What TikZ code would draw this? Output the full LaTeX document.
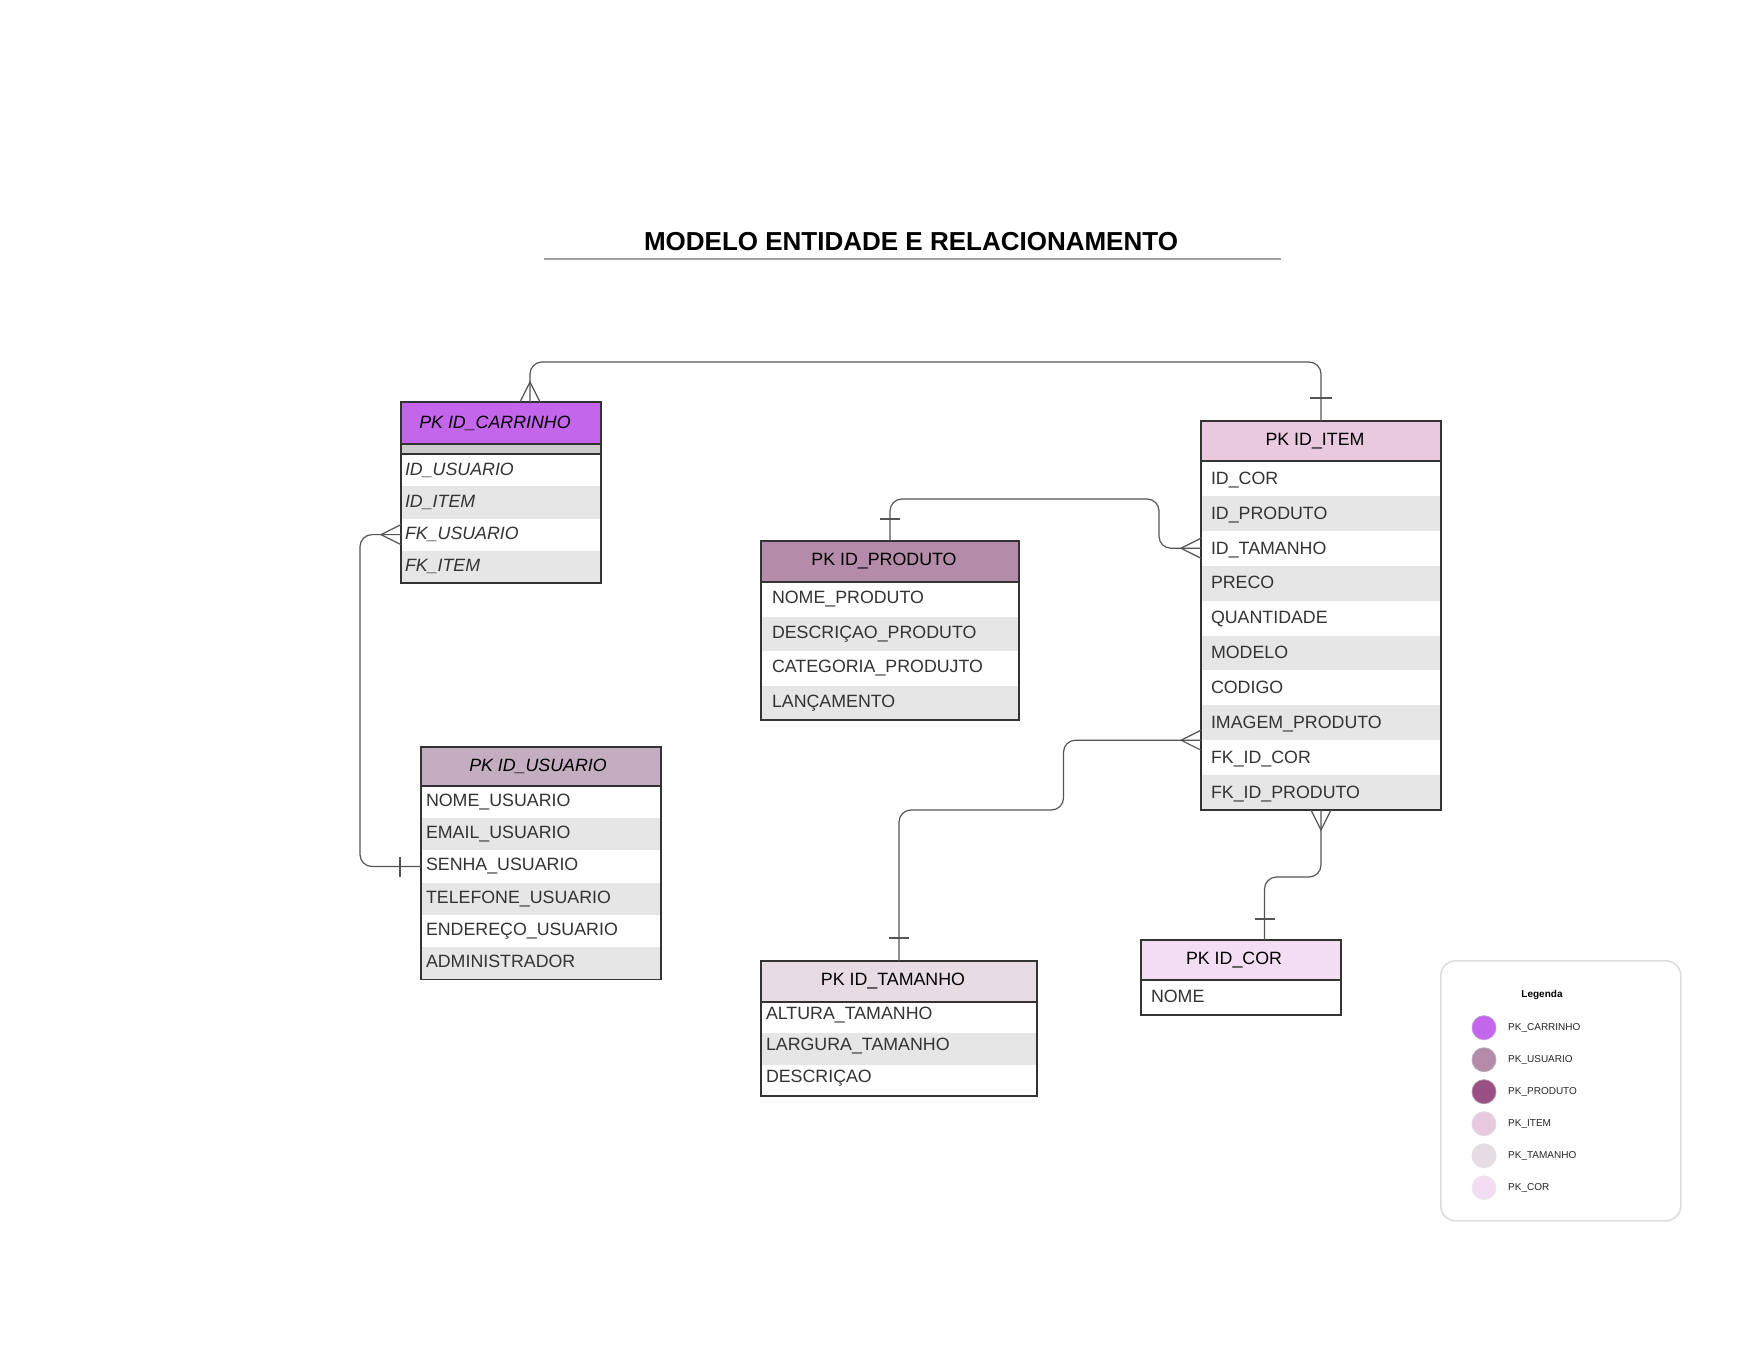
\documentclass[tikz,border=0pt]{standalone}
\usepackage{fontspec}
\setmainfont{Liberation Sans}
\usetikzlibrary{calc}
\definecolor{carC}{HTML}{C466EC}
\definecolor{usuC}{HTML}{C4ADC0}
\definecolor{proC}{HTML}{B48BA8}
\definecolor{iteC}{HTML}{E8C9E0}
\definecolor{tamC}{HTML}{E7DCE4}
\definecolor{corC}{HTML}{F3DDF3}
\definecolor{legA}{HTML}{C466EC}
\definecolor{legB}{HTML}{B48BA8}
\definecolor{legC}{HTML}{9A4F85}
\definecolor{legD}{HTML}{E8C9E0}
\definecolor{legE}{HTML}{E6DCE4}
\definecolor{legF}{HTML}{F3DDF3}
\definecolor{rowG}{HTML}{E6E6E6}
\definecolor{stripC}{HTML}{CCCCCC}
\definecolor{bordC}{HTML}{333333}
\definecolor{connC}{HTML}{555555}
\definecolor{txtC}{HTML}{333333}
\definecolor{legBord}{HTML}{DDDDDD}
\newcommand{\attrfont}{\fontsize{17.8pt}{21pt}\selectfont}
\newcommand{\legfont}{\fontsize{10pt}{12pt}\selectfont}
\begin{document}
\begin{tikzpicture}[x=1pt,y=-1pt,
  hdr/.style={anchor=north west, inner sep=0pt, outer sep=0pt, font=\attrfont, text=black},
  row/.style={anchor=north west, inner ysep=0pt, outer sep=0pt, align=left, font=\attrfont, text=txtC, text height=12.8pt, text depth=0pt},
  carrow/.style={row, text width=192pt, inner xsep=4pt, minimum height=32.25pt, text depth=2.8pt, font=\attrfont\itshape},
  prorow/.style={row, text width=236pt, inner xsep=11pt, minimum height=34.5pt, text depth=3.5pt},
  iterow/.style={row, text width=220pt, inner xsep=10pt, minimum height=34.9pt, text depth=1.2pt},
  usurow/.style={row, text width=230pt, inner xsep=5pt, minimum height=32.2pt, text depth=4pt},
  tamrow/.style={row, text width=266pt, inner xsep=5pt, minimum height=31.3pt, text depth=9pt},
  correw/.style={row, text width=180pt, inner xsep=10pt, minimum height=35pt, text depth=2pt},
  ebox/.style={draw=bordC, line width=1.3pt},
  conn/.style={draw=connC, line width=1.2pt},
  elbow/.style={conn, rounded corners=12pt},
  legdot/.style={circle, minimum size=24pt, inner sep=0pt, line width=0.8pt},
  legtxt/.style={anchor=west, inner sep=0pt, font=\legfont, text=black!85}]

\useasboundingbox (0,0) rectangle (1759,1359);
\fill[white] (0,0) rectangle (1759,1359);

% Title
\node[font=\fontsize{26pt}{30pt}\selectfont\bfseries, text=black, inner sep=0pt] (title) at (911,241.5) {MODELO ENTIDADE E RELACIONAMENTO};
\draw[color=black!38, line width=2pt] (544,259) -- (1281,259);

% ---------- CARRINHO ----------
\node[hdr, fill=carC, minimum width=200pt, minimum height=42pt, font=\attrfont\itshape] (chdr) at (401,402) {PK ID\_CARRINHO\hspace*{12pt}};
\node[anchor=north west, inner sep=0pt, outer sep=0pt, fill=stripC, minimum width=200pt, minimum height=10pt] (cstrip) at (401,444) {};
\node[carrow, fill=white] (cidu) at (401,454) {ID\_USUARIO};
\node[carrow, fill=rowG] (cidi) at (401,486.25) {ID\_ITEM};
\node[carrow, fill=white] (cfku) at (401,518.5) {FK\_USUARIO};
\node[carrow, fill=rowG] (cfki) at (401,550.75) {FK\_ITEM};
\draw[ebox] (chdr.north west) rectangle (cfki.south east);
\draw[ebox] (chdr.south west) -- (chdr.south east);
\draw[ebox] (cstrip.south west) -- (cstrip.south east);

% ---------- PRODUTO ----------
\node[hdr, fill=proC, minimum width=258pt, minimum height=41pt] (phdr) at (761,541) {PK ID\_PRODUTO\hspace*{12pt}};
\node[prorow, fill=white] (pnom) at (761,582) {NOME\_PRODUTO};
\node[prorow, fill=rowG] (pdes) at (761,616.5) {DESCRIÇAO\_PRODUTO};
\node[prorow, fill=white] (pcat) at (761,651) {CATEGORIA\_PRODUJTO};
\node[prorow, fill=rowG] (plan) at (761,685.5) {LANÇAMENTO};
\draw[ebox] (phdr.north west) rectangle (plan.south east);
\draw[ebox] (phdr.south west) -- (phdr.south east);

% ---------- ITEM ----------
\node[hdr, fill=iteC, minimum width=240pt, minimum height=40pt] (ihdr) at (1201,421) {PK ID\_ITEM\hspace*{12pt}};
\node[iterow, fill=white] (icor) at (1201,461) {ID\_COR};
\node[iterow, fill=rowG] (ipro) at (1201,495.9) {ID\_PRODUTO};
\node[iterow, fill=white] (itam) at (1201,530.8) {ID\_TAMANHO};
\node[iterow, fill=rowG] (ipre) at (1201,565.7) {PRECO};
\node[iterow, fill=white] (iqua) at (1201,600.6) {QUANTIDADE};
\node[iterow, fill=rowG] (imod) at (1201,635.5) {MODELO};
\node[iterow, fill=white] (icod) at (1201,670.4) {CODIGO};
\node[iterow, fill=rowG] (iimg) at (1201,705.3) {IMAGEM\_PRODUTO};
\node[iterow, fill=white] (ifkc) at (1201,740.2) {FK\_ID\_COR};
\node[iterow, fill=rowG] (ifkp) at (1201,775.1) {FK\_ID\_PRODUTO};
\draw[ebox] (ihdr.north west) rectangle (ifkp.south east);
\draw[ebox] (ihdr.south west) -- (ihdr.south east);

% ---------- USUARIO ----------
\node[hdr, fill=usuC, minimum width=240pt, minimum height=39pt, font=\attrfont\itshape] (uhdr) at (421,747) {PK ID\_USUARIO\hspace*{6pt}};
\node[usurow, fill=white] (unom) at (421,786) {NOME\_USUARIO};
\node[usurow, fill=rowG] (uema) at (421,818.2) {EMAIL\_USUARIO};
\node[usurow, fill=white] (usen) at (421,850.4) {SENHA\_USUARIO};
\node[usurow, fill=rowG] (utel) at (421,882.6) {TELEFONE\_USUARIO};
\node[usurow, fill=white] (uend) at (421,914.8) {ENDEREÇO\_USUARIO};
\node[usurow, fill=rowG] (uadm) at (421,947) {ADMINISTRADOR};
\draw[ebox] (uhdr.north west) rectangle (uadm.south east);
\draw[ebox] (uhdr.south west) -- (uhdr.south east);

% ---------- TAMANHO ----------
\node[hdr, fill=tamC, minimum width=276pt, minimum height=41pt] (thdr) at (761,961) {PK ID\_TAMANHO\hspace*{12pt}};
\node[tamrow, fill=white] (talt) at (761,1002) {ALTURA\_TAMANHO};
\node[tamrow, fill=rowG] (tlar) at (761,1033.3) {LARGURA\_TAMANHO};
\node[tamrow, fill=white] (tdes) at (761,1064.6) {DESCRIÇAO};
\draw[ebox] (thdr.north west) rectangle (tdes.south east);
\draw[ebox] (thdr.south west) -- (thdr.south east);

% ---------- COR ----------
\node[hdr, fill=corC, minimum width=200pt, minimum height=40pt] (khdr) at (1141,940) {PK ID\_COR\hspace*{14pt}};
\node[correw, fill=white] (knom) at (1141,980) {NOME};
\draw[ebox] (khdr.north west) rectangle (knom.south east);
\draw[ebox] (khdr.south west) -- (khdr.south east);

% ---------- CONNECTORS ----------
% Carrinho -- Item
\coordinate (carTop) at ([xshift=129pt]chdr.north west);
\coordinate (topRun) at (900,362);
\draw[elbow] (carTop) |- (topRun) -| (ihdr.north);
\draw[conn] ([xshift=-10pt]carTop) -- ([yshift=20pt]carTop) -- ([xshift=10pt]carTop);
\draw[conn] ([xshift=-11pt,yshift=23pt]ihdr.north) -- ([xshift=11pt,yshift=23pt]ihdr.north);

% Usuario -- Carrinho
\coordinate (leftRun) at (360,700);
\draw[elbow] (usen.west) -| (leftRun) |- (cfku.west);
\draw[conn] ([yshift=10pt]cfku.west) -- ([xshift=-20pt]cfku.west) -- ([yshift=-10pt]cfku.west);
\draw[conn] ([xshift=-21pt,yshift=10pt]usen.west) -- ([xshift=-21pt,yshift=-10pt]usen.west);

% Produto -- Item
\coordinate (proRun) at (1159,499);
\draw[elbow] (phdr.north) |- (proRun) |- (itam.west);
\draw[conn] ([yshift=10pt]itam.west) -- ([xshift=-20pt]itam.west) -- ([yshift=-10pt]itam.west);
\draw[conn] ([xshift=-10pt,yshift=22pt]phdr.north) -- ([xshift=10pt,yshift=22pt]phdr.north);

% Tamanho -- Item
\coordinate (tamRun) at (1063.5,810);
\draw[elbow] (thdr.north) |- (tamRun) |- (iimg.south west);
\draw[conn] ([yshift=10pt]iimg.south west) -- ([xshift=-20pt]iimg.south west) -- ([yshift=-10pt]iimg.south west);
\draw[conn] ([xshift=-10pt,yshift=23pt]thdr.north) -- ([xshift=10pt,yshift=23pt]thdr.north);

% Cor -- Item
\coordinate (corPt) at ([xshift=23.5pt]khdr.north);
\coordinate (corRun) at (1290,877);
\draw[elbow] (corPt) |- (corRun) -| (ifkp.south);
\draw[conn] ([xshift=-10pt]ifkp.south) -- ([yshift=-20pt]ifkp.south) -- ([xshift=10pt]ifkp.south);
\draw[conn] ([xshift=-10pt,yshift=21pt]corPt) -- ([xshift=10pt,yshift=21pt]corPt);

% ---------- LEGEND ----------
\node[anchor=north west, draw=legBord, line width=1.6pt, rounded corners=15pt, fill=white, minimum width=240pt, minimum height=260pt, inner sep=0pt] (leg) at (1440,960) {};
\node[font=\legfont\bfseries, inner sep=0pt, text=black] (legT) at (1542,995) {Legenda};
\node[legdot, fill=legA, draw=legA!80!black!60] (d1) at (1484,1027.7) {};
\node[legdot, fill=legB, draw=legB!80!black!60] (d2) at (1484,1059.7) {};
\node[legdot, fill=legC, draw=legC!80!black!60] (d3) at (1484,1091.7) {};
\node[legdot, fill=legD, draw=legD!80!black!40] (d4) at (1484,1123.7) {};
\node[legdot, fill=legE, draw=legE!80!black!40] (d5) at (1484,1155.7) {};
\node[legdot, fill=legF, draw=legF!80!black!30] (d6) at (1484,1187.7) {};
\node[legtxt] (t1) at (1508,1027.7) {PK\_CARRINHO};
\node[legtxt] (t2) at (1508,1059.7) {PK\_USUARIO};
\node[legtxt] (t3) at (1508,1091.7) {PK\_PRODUTO};
\node[legtxt] (t4) at (1508,1123.7) {PK\_ITEM};
\node[legtxt] (t5) at (1508,1155.7) {PK\_TAMANHO};
\node[legtxt] (t6) at (1508,1187.7) {PK\_COR};
\end{tikzpicture}
\end{document}
